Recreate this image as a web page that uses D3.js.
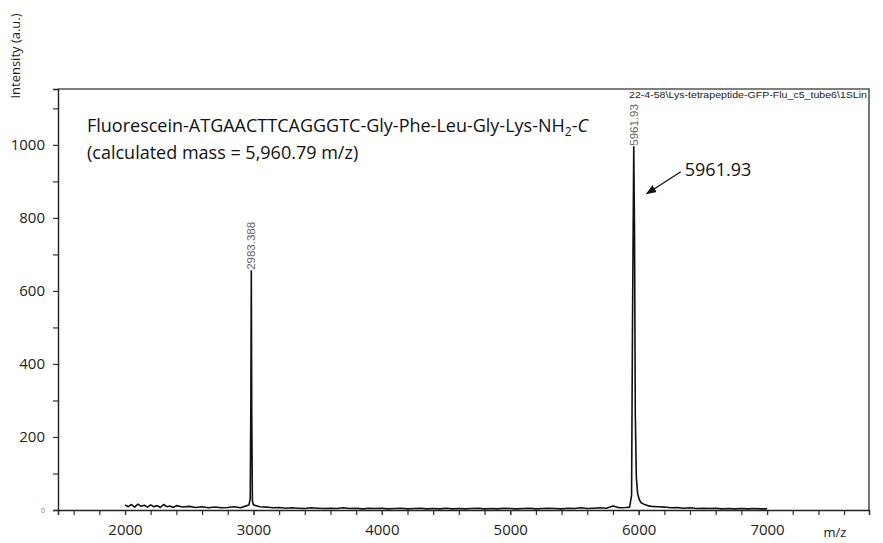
<!DOCTYPE html>
<html>
<head>
<meta charset="utf-8">
<script src="https://cdn.jsdelivr.net/npm/d3@7/dist/d3.min.js"></script>
<style>
  html, body { margin: 0; padding: 0; background: #fff; }
  svg { display: block; }
</style>
</head>
<body>
<svg id="chart" width="883" height="543"></svg>
<script>
// MALDI-TOF spectrum: [m/z, intensity]
const spectrum = [
  [2000,14],[2025,9],[2050,15],[2075,8],[2100,16],[2125,10],[2150,13],[2175,8],
  [2200,14],[2225,9],[2250,12],[2275,7],[2300,15],[2325,9],[2350,11],[2375,7],
  [2400,12],[2450,8],[2500,10],[2550,7],[2600,9],[2650,6],[2700,8],[2750,6],
  [2800,7],[2850,9],[2900,6],[2950,12],
  [2965,14],[2975,30],[2980,300],[2983.388,655],[2987,260],[2992,25],[3000,14],
  [3050,9],[3100,8],[3150,6],[3200,7],[3250,5],[3300,6],[3350,5],[3400,4],
  [3450,6],[3500,5],[3550,4],[3600,5],[3650,4],[3700,6],[3750,4],[3800,5],
  [3850,3],[3900,5],[3950,4],[4000,5],[4050,3],[4100,4],[4150,5],[4200,3],
  [4250,4],[4300,5],[4350,3],[4400,4],[4450,3],[4500,5],[4550,3],[4600,4],
  [4650,3],[4700,4],[4750,5],[4800,3],[4850,4],[4900,3],[4950,5],[5000,4],
  [5050,3],[5100,4],[5150,5],[5200,3],[5250,4],[5300,5],[5350,4],[5400,3],
  [5450,5],[5500,4],[5550,6],[5600,4],[5650,5],[5700,6],[5750,5],[5800,11],
  [5850,6],[5900,7],
  [5930,8],[5945,40],[5952,500],[5961.93,995],[5968,760],[5974,260],[5982,90],
  [5992,45],[6005,28],[6020,20],[6040,16],[6070,12],[6100,10],[6150,9],
  [6200,8],[6250,6],[6300,7],[6350,5],[6400,6],[6450,4],[6500,5],[6550,4],
  [6600,5],[6650,3],[6700,4],[6750,3],[6800,4],[6850,3],[6900,4],[6950,3],[7000,3]
];

// Labelled peaks
const peaks = [
  { mz: 2983.388, intensity: 655, label: "2983.388" },
  { mz: 5961.93, intensity: 995, label: "5961.93" }
];

const xMajorTicks = [2000, 3000, 4000, 5000, 6000, 7000];
const yMajorTicks = [0, 200, 400, 600, 800, 1000];

const titleLine1 = "Fluorescein-ATGAACTTCAGGGTC-Gly-Phe-Leu-Gly-Lys-NH";
const titleLine2 = "(calculated mass = 5,960.79 m/z)";
const fileName = "22-4-58\\Lys-tetrapeptide-GFP-Flu_c5_tube6\\1SLin";
const calloutText = "5961.93";

const svg = d3.select("#chart");
const font = "'Open Sans', sans-serif";

const plot = { left: 58, right: 869, top: 89, bottom: 510 };

const x = d3.scaleLinear().domain([1478, 7794]).range([plot.left, plot.right]);
const y = d3.scaleLinear().domain([0, 1153]).range([plot.bottom, plot.top]);

// frame (top & right)
svg.append("path")
  .attr("d", `M${plot.left},${plot.top}H${plot.right}V${plot.bottom}`)
  .attr("fill", "none").attr("stroke", "#555").attr("stroke-width", 1.6);

// x axis
const xMinor = d3.range(1600, 7800, 200);
const gx = svg.append("g").attr("transform", `translate(0,${plot.bottom})`);
gx.append("g").call(d3.axisBottom(x).tickValues(xMinor).tickSize(5).tickFormat(""))
  .call(g => g.select(".domain").remove())
  .selectAll("line").attr("stroke", "#333").attr("stroke-width", 1.2);
gx.append("g").call(d3.axisBottom(x).tickValues(xMajorTicks).tickSize(5).tickPadding(9).tickFormat(d3.format("d")))
  .call(g => g.select(".domain").attr("stroke", "#222").attr("stroke-width", 1.4))
  .call(g => g.selectAll("line").attr("stroke", "#333").attr("stroke-width", 1.2))
  .call(g => g.selectAll("text").attr("font-family", font).attr("font-size", 15).attr("fill", "#222"));

// y axis
const yMinor = d3.range(100, 1200, 200);
const gy = svg.append("g").attr("transform", `translate(${plot.left},0)`);
gy.append("g").call(d3.axisLeft(y).tickValues(yMinor).tickSize(5).tickFormat(""))
  .call(g => g.select(".domain").remove())
  .selectAll("line").attr("stroke", "#333").attr("stroke-width", 1.2);
gy.append("g").call(d3.axisLeft(y).tickValues(yMajorTicks).tickSize(5).tickPadding(8).tickFormat(d3.format("d")))
  .call(g => g.select(".domain").attr("stroke", "#222").attr("stroke-width", 1.4))
  .call(g => g.selectAll("line").attr("stroke", "#333").attr("stroke-width", 1.2))
  .call(g => g.selectAll("text").attr("font-family", font).attr("font-size", 15).attr("fill", "#222")
    .filter(d => d === 0).attr("font-size", 7).attr("fill", "#777"));

// spectrum trace
const line = d3.line().x(d => x(d[0])).y(d => y(d[1]));
svg.append("path").datum(spectrum)
  .attr("d", line)
  .attr("fill", "none").attr("stroke", "#111").attr("stroke-width", 1.6)
  .attr("stroke-linejoin", "round");

// peak labels (rotated)
svg.selectAll("text.peak").data(peaks).join("text")
  .attr("class", "peak")
  .attr("transform", d => `translate(${x(d.mz) + 4},${y(d.intensity) - 1}) rotate(-90)`)
  .attr("font-family", "'Liberation Sans', Arial, sans-serif")
  .attr("font-size", 11.5).attr("fill", "#666")
  .text(d => d.label);

// file name
svg.append("text")
  .attr("x", plot.right - 2).attr("y", plot.top + 9)
  .attr("text-anchor", "end")
  .attr("font-family", "'Liberation Sans', Arial, sans-serif")
  .attr("font-size", 9.5).attr("fill", "#222")
  .attr("textLength", 238).attr("lengthAdjust", "spacingAndGlyphs")
  .text(fileName);

// sample description
const t1 = svg.append("text")
  .attr("x", 87).attr("y", 132)
  .attr("font-family", font).attr("font-size", 18).attr("fill", "#111");
t1.append("tspan").text(titleLine1);
t1.append("tspan").attr("dy", 4).attr("font-size", 12).text("2");
t1.append("tspan").attr("dy", -4).text("-");
t1.append("tspan").attr("font-style", "italic").text("C");

svg.append("text")
  .attr("x", 87).attr("y", 159)
  .attr("font-family", font).attr("font-size", 18).attr("fill", "#111")
  .text(titleLine2);

// callout with arrow
svg.append("defs").append("marker")
  .attr("id", "arrowhead").attr("viewBox", "0 0 10 10")
  .attr("refX", 9).attr("refY", 5)
  .attr("markerWidth", 8).attr("markerHeight", 8)
  .attr("orient", "auto-start-reverse")
  .append("path").attr("d", "M0,1 L10,5 L0,9 z").attr("fill", "#111");

const peakMain = peaks[1];
svg.append("line")
  .attr("x1", x(peakMain.mz) + 47).attr("y1", y(peakMain.intensity) + 25)
  .attr("x2", x(peakMain.mz) + 13).attr("y2", y(peakMain.intensity) + 47)
  .attr("stroke", "#111").attr("stroke-width", 1.3)
  .attr("marker-end", "url(#arrowhead)");

svg.append("text")
  .attr("x", x(peakMain.mz) + 51).attr("y", y(peakMain.intensity) + 29)
  .attr("font-family", font).attr("font-size", 18).attr("fill", "#111")
  .text(calloutText);

// axis titles
svg.append("text")
  .attr("transform", "translate(20,56) rotate(-90)")
  .attr("text-anchor", "middle")
  .attr("font-family", font).attr("font-size", 13).attr("fill", "#222")
  .text("Intensity (a.u.)");

svg.append("text")
  .attr("x", 835).attr("y", 537)
  .attr("text-anchor", "middle")
  .attr("font-family", font).attr("font-size", 13).attr("fill", "#222")
  .text("m/z");
</script>
</body>
</html>
